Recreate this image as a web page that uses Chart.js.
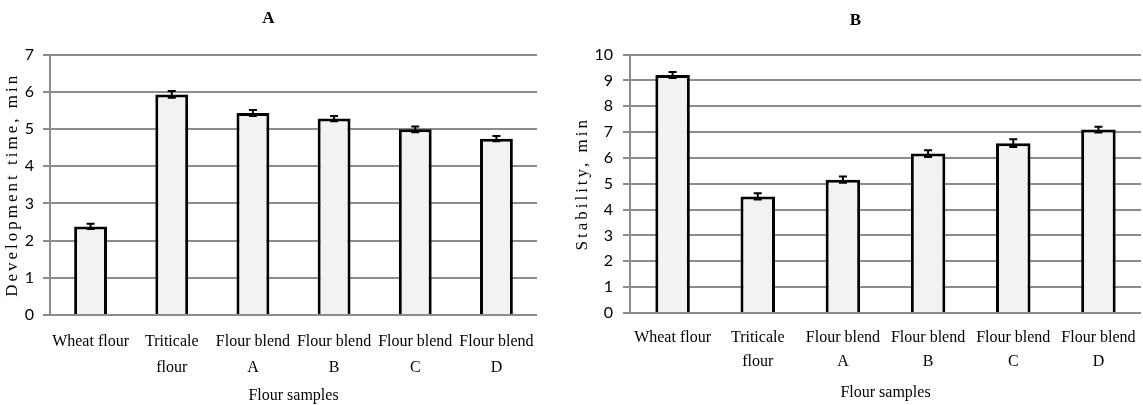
<!DOCTYPE html>
<html>
<head>
<meta charset="utf-8">
<script src="https://cdn.jsdelivr.net/npm/chart.js@4.4.1/dist/chart.umd.min.js"></script>
<style>
    html, body { margin: 0; padding: 0; background: #fff; }
    #caja_a { position: absolute; left: 0; top: 0; width: 538px; height: 405px; }
    #caja_b { position: absolute; left: 570px; top: 0; width: 573px; height: 405px; }
</style>
</head>
<body>
<div id="caja_a"><canvas id="grafico_a"></canvas></div>
<div id="caja_b"><canvas id="grafico_b"></canvas></div>
<script>
var samples = ['Wheat flour', ['Triticale', 'flour'], ['Flour blend', 'A'], ['Flour blend', 'B'], ['Flour blend', 'C'], ['Flour blend', 'D']];
var development_time = [2.38, 5.93, 5.43, 5.28, 4.99, 4.74];
var development_error = [0.07, 0.09, 0.08, 0.07, 0.08, 0.07];
var stability = [9.21, 4.51, 5.16, 6.17, 6.57, 7.10];
var stability_error = [0.12, 0.12, 0.12, 0.13, 0.15, 0.11];
var max_a = 7;
var max_b = 10;

var gris = '#8c8c8c';
var serif = "'Liberation Serif', 'Times New Roman', serif";
var sans = "Lato, 'Open Sans', sans-serif";

// error bars drawn with the chart's own y scale
function error_bars(errores) {
    return {
        id: 'error_bars',
        afterDatasetsDraw: function (chart) {
            var c = chart.ctx;
            var y = chart.scales.y;
            var datos = chart.data.datasets[0].data;
            c.save();
            c.strokeStyle = '#000';
            c.lineWidth = 2;
            chart.getDatasetMeta(0).data.forEach(function (bar, i) {
                var arriba = y.getPixelForValue(datos[i] + errores[i]);
                var abajo = y.getPixelForValue(datos[i] - errores[i]);
                c.beginPath();
                c.moveTo(bar.x, arriba); c.lineTo(bar.x, abajo);
                c.moveTo(bar.x - 4, arriba); c.lineTo(bar.x + 4, arriba);
                c.moveTo(bar.x - 4, abajo); c.lineTo(bar.x + 4, abajo);
                c.stroke();
            });
            c.restore();
        }
    };
}

function crear_grafico(id, valores, errores, maximo, titulo, titulo_y, m) {
    return new Chart(document.getElementById(id).getContext('2d'), {
        type: 'bar',
        data: {
            labels: samples,
            datasets: [{
                data: valores,
                backgroundColor: '#f2f2f2',
                borderColor: '#000',
                borderWidth: 3,
                categoryPercentage: 1,
                barPercentage: 0.405
            }]
        },
        plugins: [error_bars(errores)],
        options: {
            responsive: true,
            maintainAspectRatio: false,
            animation: false,
            devicePixelRatio: 1,
            layout: { padding: { left: 0, right: m.derecha, top: 0, bottom: 0 } },
            plugins: {
                legend: { display: false },
                tooltip: { enabled: false },
                title: {
                    display: true,
                    text: titulo,
                    color: '#000',
                    font: { family: serif, size: 17, weight: 'bold' },
                    padding: { top: m.titulo_arriba, bottom: 54.6 - 20.4 - m.titulo_arriba }
                }
            },
            scales: {
                x: {
                    grid: { display: false, drawTicks: true, tickLength: m.marca_x },
                    border: { display: false },
                    ticks: {
                        color: '#000',
                        padding: 1,
                        maxRotation: 0,
                        autoSkip: false,
                        font: { family: serif, size: 16, lineHeight: m.linea }
                    },
                    title: {
                        display: true,
                        text: 'Flour samples',
                        color: '#000',
                        font: { family: serif, size: 16 },
                        padding: { top: 0, bottom: m.titulo_x }
                    },
                    afterFit: function (s) { s.height = m.alto_x; }
                },
                y: {
                    min: 0,
                    max: maximo,
                    grid: { color: gris, lineWidth: 2, tickLength: 7 },
                    border: { color: gris, width: 2 },
                    ticks: {
                        stepSize: 1,
                        color: '#000',
                        padding: m.pad_y,
                        font: { family: sans, size: 16 }
                    },
                    title: {
                        display: true,
                        text: titulo_y,
                        color: '#000',
                        font: { family: serif, size: 17 },
                        padding: { top: 2, bottom: 0 }
                    },
                    afterFit: function (s) {
                        s.width = m.ancho_y;
                        if (!s.espaciado) {
                            var original = s.drawTitle;
                            s.drawTitle = function () {
                                this.ctx.save();
                                this.ctx.letterSpacing = m.espacio + 'px';
                                original.apply(this, arguments);
                                this.ctx.restore();
                            };
                            s.espaciado = true;
                        }
                    }
                }
            }
        }
    });
}

var chart_a = crear_grafico('grafico_a', development_time, development_error, max_a, 'A', 'Development time, min',
    { derecha: 1, titulo_arriba: 8, marca_x: 13, linea: 1.6, titulo_x: 0, alto_x: 90, pad_y: 9, ancho_y: 50, espacio: 3 });
var chart_b = crear_grafico('grafico_b', stability, stability_error, max_b, 'B', 'Stability, min',
    { derecha: 2, titulo_arriba: 10, marca_x: 12, linea: 1.5, titulo_x: 3, alto_x: 92, pad_y: 10, ancho_y: 60, espacio: 3 });
</script>
</body>
</html>
